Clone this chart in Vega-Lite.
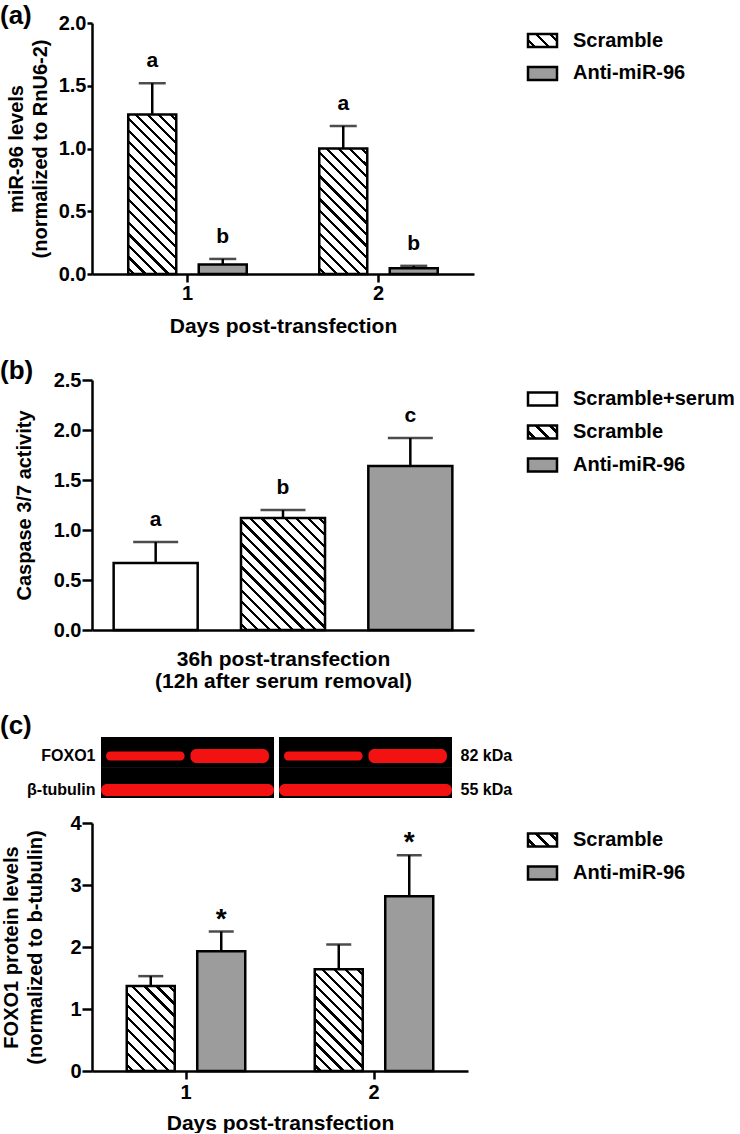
{
"$schema":"https://vega.github.io/schema/vega-lite/v6.json",
"padding":{"left":0,"top":3,"right":0,"bottom":0},
"background":"white",
"config":{
 "font":"Liberation Sans",
 "view":{"stroke":null},
 "axis":{"domainColor":"black","domainWidth":2.5,"tickColor":"black","tickWidth":2.5,"labelColor":"black","labelFont":"Liberation Sans","labelFontWeight":"bold","labelFontSize":20,"titleColor":"black","titleFont":"Liberation Sans","titleFontWeight":"bold","titleFontSize":20,"grid":false},
 "axisX":{"labelAngle":0},
 "title":{"font":"Liberation Sans","fontWeight":"bold","fontSize":26,"color":"black","anchor":"start","frame":"group"}
},
"bounds":"flush",
"spacing":0,
"resolve":{"scale":{"x":"independent","y":"independent","xOffset":"independent"}},
"vconcat":[
{
 "width":382,"height":251,
 "title":{"text":"(a)","dx":-92,"offset":-16},
 "data":{"values":[
  {"day":"1","group":"Scramble","mean":1.27,"upper":1.52,"label":"a"},
  {"day":"1","group":"Anti-miR-96","mean":0.075,"upper":0.12,"label":"b"},
  {"day":"2","group":"Scramble","mean":1.0,"upper":1.18,"label":"a"},
  {"day":"2","group":"Anti-miR-96","mean":0.045,"upper":0.065,"label":"b"}
 ]},
 "resolve":{"scale":{"x":"independent","y":"independent"}},
 "layer":[
 {
 "encoding":{
  "x":{"field":"day","type":"nominal","scale":{"paddingInner":0,"paddingOuter":0},"axis":{"title":"Days post-transfection","tickSize":8,"labelPadding":1,"titlePadding":12,"titleFontSize":21}},
  "xOffset":{"field":"group","type":"nominal","sort":["Scramble","Anti-miR-96"],"scale":{"paddingInner":0.319,"paddingOuter":0.514}},
  "y":{"field":"mean","type":"quantitative","scale":{"domain":[0,2],"nice":false},"axis":{"title":["miR-96 levels","(normalized to RnU6-2)"],"values":[0,0.5,1,1.5,2],"format":".1f","tickSize":5,"labelPadding":1,"titlePadding":8,"titleLineHeight":24}}
 },
 "layer":[
  {"mark":{"type":"bar","stroke":"black","strokeWidth":2.5},
   "encoding":{"fill":{"value":"#ffffff",
    "condition":[
     {"test":"datum.group==='Scramble' && datum.day==='1'","value":{"gradient":"linear","x1":1,"y1":0,"x2":0.6408,"y2":1.193,"stops":[{"offset":0,"color":"#fff"},
{"offset":0.0201,"color":"#fff"},{"offset":0.0201,"color":"#000"},{"offset":0.0355,"color":"#000"},{"offset":0.0355,"color":"#fff"},
{"offset":0.0756,"color":"#fff"},{"offset":0.0756,"color":"#000"},{"offset":0.0910,"color":"#000"},{"offset":0.0910,"color":"#fff"},
{"offset":0.1312,"color":"#fff"},{"offset":0.1312,"color":"#000"},{"offset":0.1466,"color":"#000"},{"offset":0.1466,"color":"#fff"},
{"offset":0.1867,"color":"#fff"},{"offset":0.1867,"color":"#000"},{"offset":0.2021,"color":"#000"},{"offset":0.2021,"color":"#fff"},
{"offset":0.2423,"color":"#fff"},{"offset":0.2423,"color":"#000"},{"offset":0.2577,"color":"#000"},{"offset":0.2577,"color":"#fff"},
{"offset":0.2979,"color":"#fff"},{"offset":0.2979,"color":"#000"},{"offset":0.3133,"color":"#000"},{"offset":0.3133,"color":"#fff"},
{"offset":0.3534,"color":"#fff"},{"offset":0.3534,"color":"#000"},{"offset":0.3688,"color":"#000"},{"offset":0.3688,"color":"#fff"},
{"offset":0.4090,"color":"#fff"},{"offset":0.4090,"color":"#000"},{"offset":0.4244,"color":"#000"},{"offset":0.4244,"color":"#fff"},
{"offset":0.4645,"color":"#fff"},{"offset":0.4645,"color":"#000"},{"offset":0.4799,"color":"#000"},{"offset":0.4799,"color":"#fff"},
{"offset":0.5201,"color":"#fff"},{"offset":0.5201,"color":"#000"},{"offset":0.5355,"color":"#000"},{"offset":0.5355,"color":"#fff"},
{"offset":0.5756,"color":"#fff"},{"offset":0.5756,"color":"#000"},{"offset":0.5910,"color":"#000"},{"offset":0.5910,"color":"#fff"},
{"offset":0.6312,"color":"#fff"},{"offset":0.6312,"color":"#000"},{"offset":0.6466,"color":"#000"},{"offset":0.6466,"color":"#fff"},
{"offset":0.6867,"color":"#fff"},{"offset":0.6867,"color":"#000"},{"offset":0.7021,"color":"#000"},{"offset":0.7021,"color":"#fff"},
{"offset":0.7423,"color":"#fff"},{"offset":0.7423,"color":"#000"},{"offset":0.7577,"color":"#000"},{"offset":0.7577,"color":"#fff"},
{"offset":0.7979,"color":"#fff"},{"offset":0.7979,"color":"#000"},{"offset":0.8133,"color":"#000"},{"offset":0.8133,"color":"#fff"},
{"offset":0.8534,"color":"#fff"},{"offset":0.8534,"color":"#000"},{"offset":0.8688,"color":"#000"},{"offset":0.8688,"color":"#fff"},
{"offset":0.9090,"color":"#fff"},{"offset":0.9090,"color":"#000"},{"offset":0.9244,"color":"#000"},{"offset":0.9244,"color":"#fff"},
{"offset":0.9645,"color":"#fff"},{"offset":0.9645,"color":"#000"},{"offset":0.9799,"color":"#000"},{"offset":0.9799,"color":"#fff"},
{"offset":1,"color":"#fff"}]}},
     {"test":"datum.group==='Scramble' && datum.day==='2'","value":{"gradient":"linear","x1":1,"y1":0,"x2":0.5387,"y2":1.206,"stops":[{"offset":0,"color":"#fff"},
{"offset":0.0241,"color":"#fff"},{"offset":0.0241,"color":"#000"},{"offset":0.0425,"color":"#000"},{"offset":0.0425,"color":"#fff"},
{"offset":0.0908,"color":"#fff"},{"offset":0.0908,"color":"#000"},{"offset":0.1092,"color":"#000"},{"offset":0.1092,"color":"#fff"},
{"offset":0.1575,"color":"#fff"},{"offset":0.1575,"color":"#000"},{"offset":0.1759,"color":"#000"},{"offset":0.1759,"color":"#fff"},
{"offset":0.2241,"color":"#fff"},{"offset":0.2241,"color":"#000"},{"offset":0.2425,"color":"#000"},{"offset":0.2425,"color":"#fff"},
{"offset":0.2908,"color":"#fff"},{"offset":0.2908,"color":"#000"},{"offset":0.3092,"color":"#000"},{"offset":0.3092,"color":"#fff"},
{"offset":0.3575,"color":"#fff"},{"offset":0.3575,"color":"#000"},{"offset":0.3759,"color":"#000"},{"offset":0.3759,"color":"#fff"},
{"offset":0.4241,"color":"#fff"},{"offset":0.4241,"color":"#000"},{"offset":0.4425,"color":"#000"},{"offset":0.4425,"color":"#fff"},
{"offset":0.4908,"color":"#fff"},{"offset":0.4908,"color":"#000"},{"offset":0.5092,"color":"#000"},{"offset":0.5092,"color":"#fff"},
{"offset":0.5575,"color":"#fff"},{"offset":0.5575,"color":"#000"},{"offset":0.5759,"color":"#000"},{"offset":0.5759,"color":"#fff"},
{"offset":0.6241,"color":"#fff"},{"offset":0.6241,"color":"#000"},{"offset":0.6425,"color":"#000"},{"offset":0.6425,"color":"#fff"},
{"offset":0.6908,"color":"#fff"},{"offset":0.6908,"color":"#000"},{"offset":0.7092,"color":"#000"},{"offset":0.7092,"color":"#fff"},
{"offset":0.7575,"color":"#fff"},{"offset":0.7575,"color":"#000"},{"offset":0.7759,"color":"#000"},{"offset":0.7759,"color":"#fff"},
{"offset":0.8241,"color":"#fff"},{"offset":0.8241,"color":"#000"},{"offset":0.8425,"color":"#000"},{"offset":0.8425,"color":"#fff"},
{"offset":0.8908,"color":"#fff"},{"offset":0.8908,"color":"#000"},{"offset":0.9092,"color":"#000"},{"offset":0.9092,"color":"#fff"},
{"offset":0.9575,"color":"#fff"},{"offset":0.9575,"color":"#000"},{"offset":0.9759,"color":"#000"},{"offset":0.9759,"color":"#fff"},
{"offset":1,"color":"#fff"}]}},
     {"test":"datum.group==='Anti-miR-96'","value":"#9c9c9c"}
    ]}}},
  {"mark":{"type":"rule","color":"black","strokeWidth":2.5},"encoding":{"y2":{"field":"upper"}}},
  {"mark":{"type":"tick","color":"black","thickness":2.5,"size":27,"orient":"horizontal"},"encoding":{"y":{"field":"upper","type":"quantitative","scale":{"domain":[0,2],"nice":false},"axis":{"title":["miR-96 levels","(normalized to RnU6-2)"],"values":[0,0.5,1,1.5,2],"format":".1f","tickSize":5,"labelPadding":1,"titlePadding":8,"titleLineHeight":24}}}},
  {"mark":{"type":"text","fontSize":21,"fontWeight":"bold","baseline":"alphabetic","dy":-16,"color":"black"},"encoding":{"y":{"field":"upper","type":"quantitative","scale":{"domain":[0,2],"nice":false},"axis":{"title":["miR-96 levels","(normalized to RnU6-2)"],"values":[0,0.5,1,1.5,2],"format":".1f","tickSize":5,"labelPadding":1,"titlePadding":8,"titleLineHeight":24}},"text":{"field":"label"}}}
 ]
 },
 {
  "data":{"values":[{"entry":"Scramble"},{"entry":"Anti-miR-96"}]},
  "encoding":{
   "x":{"datum":"swatch","type":"nominal","scale":{"range":[436,465],"paddingInner":0,"paddingOuter":0},"axis":null},
   "y":{"field":"entry","type":"nominal","sort":["Scramble","Anti-miR-96"],"scale":{"range":[11,57],"paddingInner":0.606,"paddingOuter":0},"axis":null}
  },
  "layer":[
   {"mark":{"type":"rect","stroke":"black","strokeWidth":2.5},
    "encoding":{"fill":{"value":"#ffffff","condition":[
     {"test":"datum.entry==='Scramble'","value":{"gradient":"linear","x1":1,"y1":0,"x2":-0.2059,"y2":0.5426,"stops":[{"offset":0,"color":"#fff"},{"offset":0.1267,"color":"#fff"},{"offset":0.1267,"color":"#000"},{"offset":0.2067,"color":"#000"},{"offset":0.2067,"color":"#fff"},{"offset":0.46,"color":"#fff"},{"offset":0.46,"color":"#000"},{"offset":0.54,"color":"#000"},{"offset":0.54,"color":"#fff"},{"offset":0.7933,"color":"#fff"},{"offset":0.7933,"color":"#000"},{"offset":0.8733,"color":"#000"},{"offset":0.8733,"color":"#fff"},{"offset":1,"color":"#fff"}]}},
     {"test":"datum.entry==='Anti-miR-96'","value":"#9c9c9c"}]}}},
   {"mark":{"type":"text","align":"left","baseline":"middle","dx":16,"fontSize":20,"fontWeight":"bold","color":"black"},
    "encoding":{"x":{"datum":"swatch","type":"nominal","bandPosition":1,"scale":{"range":[436,465],"paddingInner":0,"paddingOuter":0},"axis":null},"text":{"field":"entry"}}}
  ]
 }
 ]
},
{
 "width":382,"height":356,
 "title":{"text":"(b)","dx":-92,"offset":-110},
 "data":{"values":[
  {"group":"Scramble+serum","mean":0.67,"upper":0.88,"label":"a"},
  {"group":"Scramble","mean":1.12,"upper":1.2,"label":"b"},
  {"group":"Anti-miR-96","mean":1.64,"upper":1.92,"label":"c"}
 ]},
 "resolve":{"scale":{"x":"independent","y":"independent"}},
 "layer":[
 {
 "encoding":{
  "x":{"field":"group","type":"nominal","sort":["Scramble+serum","Scramble","Anti-miR-96"],"scale":{"paddingInner":0.34,"paddingOuter":0.17},"axis":{"title":["36h post-transfection","(12h after serum removal)"],"labels":false,"ticks":false,"titlePadding":18,"titleLineHeight":22,"titleFontSize":21}},
  "y":{"field":"mean","type":"quantitative","scale":{"domain":[0,2.5],"nice":false,"range":[356,106]},"axis":{"title":"Caspase 3/7 activity","values":[0,0.5,1,1.5,2,2.5],"format":".1f","tickSize":10,"labelPadding":1,"titlePadding":19}}
 },
 "layer":[
  {"mark":{"type":"bar","stroke":"black","strokeWidth":2.5},
   "encoding":{"fill":{"value":"#ffffff",
    "condition":[
     {"test":"datum.group==='Scramble'","value":{"gradient":"linear","x1":1,"y1":0,"x2":0.1597,"y2":1.1198,"stops":[{"offset":0,"color":"#fff"},
{"offset":0.0212,"color":"#fff"},{"offset":0.0212,"color":"#000"},{"offset":0.0376,"color":"#000"},{"offset":0.0376,"color":"#fff"},
{"offset":0.0800,"color":"#fff"},{"offset":0.0800,"color":"#000"},{"offset":0.0964,"color":"#000"},{"offset":0.0964,"color":"#fff"},
{"offset":0.1389,"color":"#fff"},{"offset":0.1389,"color":"#000"},{"offset":0.1553,"color":"#000"},{"offset":0.1553,"color":"#fff"},
{"offset":0.1977,"color":"#fff"},{"offset":0.1977,"color":"#000"},{"offset":0.2141,"color":"#000"},{"offset":0.2141,"color":"#fff"},
{"offset":0.2565,"color":"#fff"},{"offset":0.2565,"color":"#000"},{"offset":0.2729,"color":"#000"},{"offset":0.2729,"color":"#fff"},
{"offset":0.3153,"color":"#fff"},{"offset":0.3153,"color":"#000"},{"offset":0.3317,"color":"#000"},{"offset":0.3317,"color":"#fff"},
{"offset":0.3742,"color":"#fff"},{"offset":0.3742,"color":"#000"},{"offset":0.3906,"color":"#000"},{"offset":0.3906,"color":"#fff"},
{"offset":0.4330,"color":"#fff"},{"offset":0.4330,"color":"#000"},{"offset":0.4494,"color":"#000"},{"offset":0.4494,"color":"#fff"},
{"offset":0.4918,"color":"#fff"},{"offset":0.4918,"color":"#000"},{"offset":0.5082,"color":"#000"},{"offset":0.5082,"color":"#fff"},
{"offset":0.5506,"color":"#fff"},{"offset":0.5506,"color":"#000"},{"offset":0.5670,"color":"#000"},{"offset":0.5670,"color":"#fff"},
{"offset":0.6095,"color":"#fff"},{"offset":0.6095,"color":"#000"},{"offset":0.6259,"color":"#000"},{"offset":0.6259,"color":"#fff"},
{"offset":0.6683,"color":"#fff"},{"offset":0.6683,"color":"#000"},{"offset":0.6847,"color":"#000"},{"offset":0.6847,"color":"#fff"},
{"offset":0.7271,"color":"#fff"},{"offset":0.7271,"color":"#000"},{"offset":0.7435,"color":"#000"},{"offset":0.7435,"color":"#fff"},
{"offset":0.7859,"color":"#fff"},{"offset":0.7859,"color":"#000"},{"offset":0.8023,"color":"#000"},{"offset":0.8023,"color":"#fff"},
{"offset":0.8447,"color":"#fff"},{"offset":0.8447,"color":"#000"},{"offset":0.8611,"color":"#000"},{"offset":0.8611,"color":"#fff"},
{"offset":0.9036,"color":"#fff"},{"offset":0.9036,"color":"#000"},{"offset":0.9200,"color":"#000"},{"offset":0.9200,"color":"#fff"},
{"offset":0.9624,"color":"#fff"},{"offset":0.9624,"color":"#000"},{"offset":0.9788,"color":"#000"},{"offset":0.9788,"color":"#fff"},
{"offset":1,"color":"#fff"}]}},
     {"test":"datum.group==='Anti-miR-96'","value":"#9c9c9c"}
    ]}}},
  {"mark":{"type":"rule","color":"black","strokeWidth":2.5},"encoding":{"y2":{"field":"upper"}}},
  {"mark":{"type":"tick","color":"black","thickness":2.5,"size":45,"orient":"horizontal"},"encoding":{"y":{"field":"upper","type":"quantitative","scale":{"domain":[0,2.5],"nice":false,"range":[356,106]},"axis":{"title":"Caspase 3/7 activity","values":[0,0.5,1,1.5,2,2.5],"format":".1f","tickSize":10,"labelPadding":1,"titlePadding":19}}}},
  {"mark":{"type":"text","fontSize":21,"fontWeight":"bold","baseline":"alphabetic","dy":-16,"color":"black"},"encoding":{"y":{"field":"upper","type":"quantitative","scale":{"domain":[0,2.5],"nice":false,"range":[356,106]},"axis":{"title":"Caspase 3/7 activity","values":[0,0.5,1,1.5,2,2.5],"format":".1f","tickSize":10,"labelPadding":1,"titlePadding":19}},"text":{"field":"label"}}}
 ]
 },
 {
  "data":{"values":[{"entry":"Scramble+serum"},{"entry":"Scramble"},{"entry":"Anti-miR-96"}]},
  "encoding":{
   "x":{"datum":"swatch","type":"nominal","scale":{"range":[436,465],"paddingInner":0,"paddingOuter":0},"axis":null},
   "y":{"field":"entry","type":"nominal","sort":["Scramble+serum","Scramble","Anti-miR-96"],"scale":{"range":[118.5,197.5],"paddingInner":0.606,"paddingOuter":0},"axis":null}
  },
  "layer":[
   {"mark":{"type":"rect","stroke":"black","strokeWidth":2.5},
    "encoding":{"fill":{"value":"#ffffff","condition":[
     {"test":"datum.entry==='Scramble'","value":{"gradient":"linear","x1":1,"y1":0,"x2":-0.2059,"y2":0.5426,"stops":[{"offset":0,"color":"#fff"},{"offset":0.1267,"color":"#fff"},{"offset":0.1267,"color":"#000"},{"offset":0.2067,"color":"#000"},{"offset":0.2067,"color":"#fff"},{"offset":0.46,"color":"#fff"},{"offset":0.46,"color":"#000"},{"offset":0.54,"color":"#000"},{"offset":0.54,"color":"#fff"},{"offset":0.7933,"color":"#fff"},{"offset":0.7933,"color":"#000"},{"offset":0.8733,"color":"#000"},{"offset":0.8733,"color":"#fff"},{"offset":1,"color":"#fff"}]}},
     {"test":"datum.entry==='Anti-miR-96'","value":"#9c9c9c"}]}}},
   {"mark":{"type":"text","align":"left","baseline":"middle","dx":16,"fontSize":20,"fontWeight":"bold","color":"black"},
    "encoding":{"x":{"datum":"swatch","type":"nominal","bandPosition":1,"scale":{"range":[436,465],"paddingInner":0,"paddingOuter":0},"axis":null},"text":{"field":"entry"}}}
  ]
 }
 ]
},
{
 "width":382,"height":168,
 "title":{"text":"(c)","dx":-92,"offset":-109},
 "data":{"values":[
  {"day":"1","group":"Scramble","protein":"FOXO1"},
  {"day":"1","group":"Anti-miR-96","protein":"FOXO1"},
  {"day":"2","group":"Scramble","protein":"FOXO1"},
  {"day":"2","group":"Anti-miR-96","protein":"FOXO1"},
  {"day":"1","group":"Scramble","protein":"β-tubulin"},
  {"day":"1","group":"Anti-miR-96","protein":"β-tubulin"},
  {"day":"2","group":"Scramble","protein":"β-tubulin"},
  {"day":"2","group":"Anti-miR-96","protein":"β-tubulin"}
 ]},
 "layer":[
  {"mark":{"type":"rect","fill":"black"},
   "encoding":{
    "x":{"field":"day","type":"nominal","scale":{"range":[9,360],"paddingInner":0.028,"paddingOuter":0},"axis":null},
    "y":{"field":"protein","type":"nominal","scale":{"domain":["FOXO1","β-tubulin"],"range":[107,168],"paddingInner":0,"paddingOuter":0},"axis":null}}},
  {"transform":[{"filter":"datum.protein==='FOXO1' && datum.group==='Scramble'"}],
   "mark":{"type":"rect","fill":"#f21212","cornerRadius":4},
   "encoding":{
    "x":{"field":"day","type":"nominal","scale":{"range":[9,360],"paddingInner":0.028,"paddingOuter":0},"axis":null},
    "xOffset":{"field":"group","type":"nominal","scale":{"domain":["Scramble","Anti-miR-96"],"paddingInner":0.07,"paddingOuter":0.06}},
    "y":{"field":"protein","type":"nominal","scale":{"domain":["FOXO1","β-tubulin"],"range":[121.5,164.5],"paddingInner":0.735,"paddingOuter":0},"axis":null}}},
  {"transform":[{"filter":"datum.protein==='FOXO1' && datum.group==='Anti-miR-96'"}],
   "mark":{"type":"rect","fill":"#f21212","cornerRadius":6},
   "encoding":{
    "x":{"field":"day","type":"nominal","scale":{"range":[9,360],"paddingInner":0.028,"paddingOuter":0},"axis":null},
    "xOffset":{"field":"group","type":"nominal","scale":{"domain":["Scramble","Anti-miR-96"],"paddingInner":0.07,"paddingOuter":0.06}},
    "y":{"field":"protein","type":"nominal","scale":{"domain":["FOXO1","β-tubulin"],"range":[119,167],"paddingInner":0.588,"paddingOuter":0},"axis":{"orient":"left","title":null,"domain":false,"ticks":false,"labelFontSize":16,"labelPadding":6,"offset":-9}}}},
  {"transform":[{"filter":"datum.protein==='β-tubulin' && datum.group==='Scramble'"}],
   "mark":{"type":"rect","fill":"#f21212","cornerRadius":6},
   "encoding":{
    "x":{"field":"day","type":"nominal","scale":{"range":[9,360],"paddingInner":0.028,"paddingOuter":0},"axis":null},
    "y":{"field":"protein","type":"nominal","scale":{"domain":["FOXO1","β-tubulin"],"range":[120,166],"paddingInner":0.647,"paddingOuter":0},"axis":null}}},
  {"mark":{"type":"rect","opacity":0},
   "encoding":{
    "x":{"field":"day","type":"nominal","scale":{"range":[9,360],"paddingInner":0.028,"paddingOuter":0},"axis":null},
    "y":{"field":"protein","type":"nominal","scale":{"domain":["FOXO1","β-tubulin"],"range":[120,166],"paddingInner":0.647,"paddingOuter":0},"axis":{"orient":"right","title":null,"domain":false,"ticks":false,"labelFontSize":16,"labelPadding":8,"offset":-22,"labelExpr":"datum.value==='FOXO1' ? '82 kDa' : '55 kDa'"}}}}
 ],
 "resolve":{"scale":{"y":"independent"},"axis":{"y":"independent"}}
},
{
 "width":376,"height":273,
 "data":{"values":[
  {"day":"1","group":"Scramble","mean":1.37,"upper":1.53,"label":""},
  {"day":"1","group":"Anti-miR-96","mean":1.93,"upper":2.25,"label":"*"},
  {"day":"2","group":"Scramble","mean":1.64,"upper":2.04,"label":""},
  {"day":"2","group":"Anti-miR-96","mean":2.82,"upper":3.48,"label":"*"}
 ]},
 "resolve":{"scale":{"x":"independent","y":"independent"}},
 "layer":[
 {
 "encoding":{
  "x":{"field":"day","type":"nominal","scale":{"paddingInner":0,"paddingOuter":0},"axis":{"title":"Days post-transfection","tickSize":8,"labelPadding":3,"titlePadding":10,"titleFontSize":21}},
  "xOffset":{"field":"group","type":"nominal","sort":["Scramble","Anti-miR-96"],"scale":{"paddingInner":0.319,"paddingOuter":0.493}},
  "y":{"field":"mean","type":"quantitative","scale":{"domain":[0,4],"nice":false,"range":[273,25]},"axis":{"title":["FOXO1 protein levels","(normalized to b-tubulin)"],"values":[0,1,2,3,4],"format":"d","tickSize":10,"labelPadding":1,"titlePadding":24,"titleLineHeight":24}}
 },
 "layer":[
  {"mark":{"type":"bar","stroke":"black","strokeWidth":2.5},
   "encoding":{"fill":{"value":"#ffffff",
    "condition":[
     {"test":"datum.group==='Scramble' && datum.day==='1'","value":{"gradient":"linear","x1":1,"y1":0,"x2":0.3296,"y2":1.1863,"stops":[{"offset":0,"color":"#fff"},
{"offset":0.0335,"color":"#fff"},{"offset":0.0335,"color":"#000"},{"offset":0.0575,"color":"#000"},{"offset":0.0575,"color":"#fff"},
{"offset":0.1244,"color":"#fff"},{"offset":0.1244,"color":"#000"},{"offset":0.1484,"color":"#000"},{"offset":0.1484,"color":"#fff"},
{"offset":0.2153,"color":"#fff"},{"offset":0.2153,"color":"#000"},{"offset":0.2393,"color":"#000"},{"offset":0.2393,"color":"#fff"},
{"offset":0.3062,"color":"#fff"},{"offset":0.3062,"color":"#000"},{"offset":0.3302,"color":"#000"},{"offset":0.3302,"color":"#fff"},
{"offset":0.3971,"color":"#fff"},{"offset":0.3971,"color":"#000"},{"offset":0.4211,"color":"#000"},{"offset":0.4211,"color":"#fff"},
{"offset":0.4880,"color":"#fff"},{"offset":0.4880,"color":"#000"},{"offset":0.5120,"color":"#000"},{"offset":0.5120,"color":"#fff"},
{"offset":0.5789,"color":"#fff"},{"offset":0.5789,"color":"#000"},{"offset":0.6029,"color":"#000"},{"offset":0.6029,"color":"#fff"},
{"offset":0.6698,"color":"#fff"},{"offset":0.6698,"color":"#000"},{"offset":0.6938,"color":"#000"},{"offset":0.6938,"color":"#fff"},
{"offset":0.7607,"color":"#fff"},{"offset":0.7607,"color":"#000"},{"offset":0.7847,"color":"#000"},{"offset":0.7847,"color":"#fff"},
{"offset":0.8516,"color":"#fff"},{"offset":0.8516,"color":"#000"},{"offset":0.8756,"color":"#000"},{"offset":0.8756,"color":"#fff"},
{"offset":0.9425,"color":"#fff"},{"offset":0.9425,"color":"#000"},{"offset":0.9665,"color":"#000"},{"offset":0.9665,"color":"#fff"},
{"offset":1,"color":"#fff"}]}},
     {"test":"datum.group==='Scramble' && datum.day==='2'","value":{"gradient":"linear","x1":1,"y1":0,"x2":0.4317,"y2":1.2038,"stops":[{"offset":0,"color":"#fff"},
{"offset":0.0278,"color":"#fff"},{"offset":0.0278,"color":"#000"},{"offset":0.0492,"color":"#000"},{"offset":0.0492,"color":"#fff"},
{"offset":0.1047,"color":"#fff"},{"offset":0.1047,"color":"#000"},{"offset":0.1261,"color":"#000"},{"offset":0.1261,"color":"#fff"},
{"offset":0.1816,"color":"#fff"},{"offset":0.1816,"color":"#000"},{"offset":0.2030,"color":"#000"},{"offset":0.2030,"color":"#fff"},
{"offset":0.2585,"color":"#fff"},{"offset":0.2585,"color":"#000"},{"offset":0.2799,"color":"#000"},{"offset":0.2799,"color":"#fff"},
{"offset":0.3355,"color":"#fff"},{"offset":0.3355,"color":"#000"},{"offset":0.3569,"color":"#000"},{"offset":0.3569,"color":"#fff"},
{"offset":0.4124,"color":"#fff"},{"offset":0.4124,"color":"#000"},{"offset":0.4338,"color":"#000"},{"offset":0.4338,"color":"#fff"},
{"offset":0.4893,"color":"#fff"},{"offset":0.4893,"color":"#000"},{"offset":0.5107,"color":"#000"},{"offset":0.5107,"color":"#fff"},
{"offset":0.5662,"color":"#fff"},{"offset":0.5662,"color":"#000"},{"offset":0.5876,"color":"#000"},{"offset":0.5876,"color":"#fff"},
{"offset":0.6432,"color":"#fff"},{"offset":0.6432,"color":"#000"},{"offset":0.6646,"color":"#000"},{"offset":0.6646,"color":"#fff"},
{"offset":0.7201,"color":"#fff"},{"offset":0.7201,"color":"#000"},{"offset":0.7415,"color":"#000"},{"offset":0.7415,"color":"#fff"},
{"offset":0.7970,"color":"#fff"},{"offset":0.7970,"color":"#000"},{"offset":0.8184,"color":"#000"},{"offset":0.8184,"color":"#fff"},
{"offset":0.8739,"color":"#fff"},{"offset":0.8739,"color":"#000"},{"offset":0.8953,"color":"#000"},{"offset":0.8953,"color":"#fff"},
{"offset":0.9508,"color":"#fff"},{"offset":0.9508,"color":"#000"},{"offset":0.9722,"color":"#000"},{"offset":0.9722,"color":"#fff"},
{"offset":1,"color":"#fff"}]}},
     {"test":"datum.group==='Anti-miR-96'","value":"#9c9c9c"}
    ]}}},
  {"mark":{"type":"rule","color":"black","strokeWidth":2.5},"encoding":{"y2":{"field":"upper"}}},
  {"mark":{"type":"tick","color":"black","thickness":2.5,"size":25,"orient":"horizontal"},"encoding":{"y":{"field":"upper","type":"quantitative","scale":{"domain":[0,4],"nice":false,"range":[273,25]},"axis":{"title":["FOXO1 protein levels","(normalized to b-tubulin)"],"values":[0,1,2,3,4],"format":"d","tickSize":10,"labelPadding":1,"titlePadding":24,"titleLineHeight":24}}}},
  {"mark":{"type":"text","fontSize":28,"fontWeight":"bold","baseline":"alphabetic","dy":-4,"color":"black"},"encoding":{"y":{"field":"upper","type":"quantitative","scale":{"domain":[0,4],"nice":false,"range":[273,25]},"axis":{"title":["FOXO1 protein levels","(normalized to b-tubulin)"],"values":[0,1,2,3,4],"format":"d","tickSize":10,"labelPadding":1,"titlePadding":24,"titleLineHeight":24}},"text":{"field":"label"}}}
 ]
 },
 {
  "data":{"values":[{"entry":"Scramble"},{"entry":"Anti-miR-96"}]},
  "encoding":{
   "x":{"datum":"swatch","type":"nominal","scale":{"range":[436,465],"paddingInner":0,"paddingOuter":0},"axis":null},
   "y":{"field":"entry","type":"nominal","sort":["Scramble","Anti-miR-96"],"scale":{"range":[35.5,81.5],"paddingInner":0.606,"paddingOuter":0},"axis":null}
  },
  "layer":[
   {"mark":{"type":"rect","stroke":"black","strokeWidth":2.5},
    "encoding":{"fill":{"value":"#ffffff","condition":[
     {"test":"datum.entry==='Scramble'","value":{"gradient":"linear","x1":1,"y1":0,"x2":-0.2059,"y2":0.5426,"stops":[{"offset":0,"color":"#fff"},{"offset":0.1267,"color":"#fff"},{"offset":0.1267,"color":"#000"},{"offset":0.2067,"color":"#000"},{"offset":0.2067,"color":"#fff"},{"offset":0.46,"color":"#fff"},{"offset":0.46,"color":"#000"},{"offset":0.54,"color":"#000"},{"offset":0.54,"color":"#fff"},{"offset":0.7933,"color":"#fff"},{"offset":0.7933,"color":"#000"},{"offset":0.8733,"color":"#000"},{"offset":0.8733,"color":"#fff"},{"offset":1,"color":"#fff"}]}},
     {"test":"datum.entry==='Anti-miR-96'","value":"#9c9c9c"}]}}},
   {"mark":{"type":"text","align":"left","baseline":"middle","dx":16,"fontSize":20,"fontWeight":"bold","color":"black"},
    "encoding":{"x":{"datum":"swatch","type":"nominal","bandPosition":1,"scale":{"range":[436,465],"paddingInner":0,"paddingOuter":0},"axis":null},"text":{"field":"entry"}}}
  ]
 }
 ]
}
]
}
